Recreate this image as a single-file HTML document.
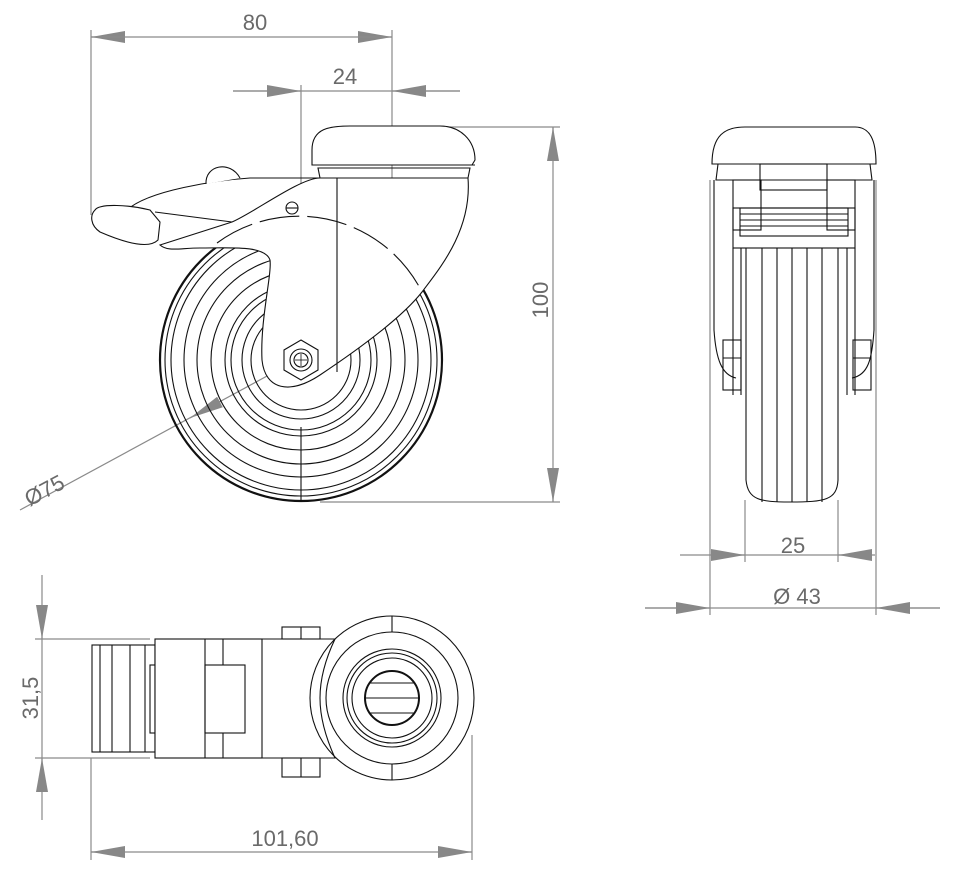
<!DOCTYPE html>
<html><head><style>
html,body{margin:0;padding:0;background:#fff;}
svg{display:block}
text{font-family:"Liberation Sans",sans-serif;fill:#6a6a6a;font-size:22px}
</style></head><body>
<svg width="960" height="870" viewBox="0 0 960 870" xmlns="http://www.w3.org/2000/svg">
<defs>
<marker id="a" viewBox="0 0 34 12" refX="34" refY="6" markerWidth="34" markerHeight="12" markerUnits="userSpaceOnUse" orient="auto"><path d="M0,0 L34,6 L0,12 Z" fill="#888"/></marker>
</defs>
<g stroke="#8a8a8a" stroke-width="1.2" fill="none">
<line x1="91" y1="30" x2="91" y2="215"/>
<line x1="392" y1="30" x2="392" y2="245" />
<line x1="125" y1="37" x2="91" y2="37" marker-end="url(#a)"/>
<line x1="358" y1="37" x2="392" y2="37" marker-end="url(#a)"/>
<line x1="91" y1="37" x2="392" y2="37"/>
<line x1="233" y1="91" x2="460" y2="91"/>
<line x1="233" y1="91" x2="301" y2="91" marker-end="url(#a)"/>
<line x1="460" y1="91" x2="392" y2="91" marker-end="url(#a)"/>
<line x1="301" y1="85" x2="301" y2="362"/>
<line x1="395" y1="127" x2="560" y2="127"/>
<line x1="320" y1="502" x2="560" y2="502"/>
<line x1="553" y1="127" x2="553" y2="502"/>
<line x1="553" y1="161" x2="553" y2="127" marker-end="url(#a)"/>
<line x1="553" y1="468" x2="553" y2="502" marker-end="url(#a)"/>
<line x1="20" y1="510" x2="422" y2="292"/>
<line x1="392" y1="308" x2="422" y2="292" marker-end="url(#a)"/>
<line x1="220" y1="402" x2="190" y2="418" marker-end="url(#a)"/>
<line x1="710" y1="180" x2="710" y2="615"/>
<line x1="876" y1="180" x2="876" y2="615"/>
<line x1="745" y1="500" x2="745" y2="562"/>
<line x1="838" y1="500" x2="838" y2="562"/>
<line x1="680" y1="555" x2="875" y2="555"/>
<line x1="711" y1="555" x2="745" y2="555" marker-end="url(#a)"/>
<line x1="872" y1="555" x2="838" y2="555" marker-end="url(#a)"/>
<line x1="645" y1="608" x2="940" y2="608"/>
<line x1="645" y1="608" x2="710" y2="608" marker-end="url(#a)"/>
<line x1="940" y1="608" x2="876" y2="608" marker-end="url(#a)"/>
<line x1="35" y1="639" x2="150" y2="639"/>
<line x1="35" y1="758" x2="150" y2="758"/>
<line x1="42" y1="575" x2="42" y2="820"/>
<line x1="42" y1="605" x2="42" y2="639" marker-end="url(#a)"/>
<line x1="42" y1="792" x2="42" y2="758" marker-end="url(#a)"/>
<line x1="91" y1="758" x2="91" y2="860"/>
<line x1="472" y1="735" x2="472" y2="860"/>
<line x1="91" y1="852" x2="472" y2="852"/>
<line x1="125" y1="852" x2="91" y2="852" marker-end="url(#a)"/>
<line x1="438" y1="852" x2="472" y2="852" marker-end="url(#a)"/>
</g>
<text x="255" y="30" text-anchor="middle">80</text>
<text x="345" y="84" text-anchor="middle">24</text>
<text x="548" y="300" text-anchor="middle" transform="rotate(-90 548 300)">100</text>
<text x="48" y="497" text-anchor="middle" transform="rotate(-28 48 497)">Ø75</text>
<text x="793" y="553" text-anchor="middle">25</text>
<text x="797" y="604" text-anchor="middle">Ø 43</text>
<text x="38" y="698" text-anchor="middle" transform="rotate(-90 38 698)">31,5</text>
<text x="285" y="846" text-anchor="middle">101,60</text>

<g stroke="#111" stroke-width="1.1" fill="none">
<circle cx="301" cy="360" r="141" stroke-width="2.2"/>
<circle cx="301" cy="360" r="136"/>
<circle cx="301" cy="360" r="130"/>
<circle cx="301" cy="360" r="117"/>
<circle cx="301" cy="360" r="104"/>
<circle cx="301" cy="360" r="90"/>
<circle cx="301" cy="360" r="76"/>
<circle cx="301" cy="360" r="70"/>
<circle cx="301" cy="360" r="59"/>
<circle cx="301" cy="360" r="50"/>
<line x1="301" y1="427" x2="301" y2="502"/>
<path d="M160,245 L232,222 C255,212 300,178 320,178 L468,178 C472,230 440,268 422,292 C400,320 350,355 320,375 C290,395 265,390 262,360 C260,320 272,275 270,260 C265,245 230,248 200,248 C180,248 168,252 160,245 Z" fill="#fff"/>
<path d="M125,212 C145,190 220,180 250,178 L320,178" />
<path d="M206,184 C205,165 230,160 240,178" fill="#fff"/>
<path d="M95,210 C100,203 130,205 150,210 L160,222 L158,240 C150,248 130,245 100,232 C90,225 90,215 95,210 Z" fill="#fff"/>
<path d="M155,212 L232,222" />
<line x1="337" y1="178" x2="337" y2="372"/>
<circle cx="292" cy="208" r="6"/>
<line x1="286" y1="208" x2="298" y2="208"/>
<path d="M217,243 A138,138 0 0 1 422,292" stroke-dasharray="40,8"/>
<polygon points="301,340 318,350 318,370 301,380 284,370 284,350" fill="#fff"/>
<circle cx="301" cy="360" r="11"/>
<circle cx="301" cy="360" r="7"/>
<line x1="295" y1="360" x2="307" y2="360" stroke-width="0.8"/>
<line x1="301" y1="354" x2="301" y2="366" stroke-width="0.8"/>
<path d="M312,165 L312,150 C312,128 330,126 350,126 L440,126 C460,126 475,140 475,160 L472,165 Z" fill="#fff"/>
<line x1="312" y1="165" x2="475" y2="165"/>
<path d="M318,168 L470,168 L468,178 L320,178 Z"/>
</g>

<g stroke="#111" stroke-width="1.1" fill="none">
<path d="M712,164 C712,135 725,127 745,127 L855,127 C870,127 876,140 876,164 Z" fill="#fff"/>
<path d="M718,164 L870,164 L872,180 L716,180 Z"/>
<rect x="760" y="164" width="67" height="26"/>
<path d="M714,180 L714,330 C716,360 722,375 736,378" />
<path d="M874,180 L874,330 C872,360 868,375 852,378" />
<rect x="733" y="180" width="28" height="50"/>
<rect x="827" y="180" width="28" height="50"/>
<rect x="733" y="208" width="122" height="40"/>
<rect x="740" y="208" width="108" height="28" />
<line x1="740" y1="214" x2="848" y2="214"/>
<line x1="740" y1="220" x2="848" y2="220"/>
<line x1="740" y1="226" x2="848" y2="226"/>
<line x1="733" y1="248" x2="733" y2="395"/>
<line x1="855" y1="248" x2="855" y2="395"/>
<line x1="741" y1="248" x2="741" y2="395"/>
<line x1="847" y1="248" x2="847" y2="395"/>
<path d="M746,248 L746,480 C748,500 760,502 790,502 C825,502 837,500 838,480 L838,248"/>
<line x1="762" y1="248" x2="762" y2="502"/>
<line x1="777" y1="248" x2="777" y2="502"/>
<line x1="792" y1="248" x2="792" y2="502"/>
<line x1="807" y1="248" x2="807" y2="502"/>
<line x1="822" y1="248" x2="822" y2="502"/>
<rect x="723" y="340" width="18" height="50"/>
<line x1="723" y1="358" x2="741" y2="358"/>
<rect x="853" y="340" width="18" height="50"/>
<line x1="853" y1="358" x2="871" y2="358"/>
</g>

<g stroke="#111" stroke-width="1.1" fill="none">
<rect x="92" y="645" width="63" height="107"/>
<line x1="100" y1="645" x2="100" y2="752"/>
<line x1="112" y1="645" x2="112" y2="752"/>
<line x1="130" y1="645" x2="130" y2="752"/>
<line x1="145" y1="645" x2="145" y2="752"/>
<rect x="150" y="665" width="6" height="68"/>
<circle cx="392" cy="698" r="82" fill="#fff"/>
<circle cx="392" cy="698" r="66"/>
<circle cx="392" cy="698" r="49"/>
<circle cx="392" cy="698" r="45"/>
<circle cx="392" cy="698" r="40"/>
<circle cx="392" cy="698" r="27" stroke-width="2"/>
<line x1="370" y1="683" x2="414" y2="683"/>
<line x1="366" y1="698" x2="418" y2="698"/>
<line x1="370" y1="713" x2="414" y2="713"/>
<line x1="392" y1="616" x2="392" y2="632"/>
<line x1="392" y1="764" x2="392" y2="780"/>
<rect x="155" y="639" width="107" height="119" fill="#fff"/>
<path d="M262,639 L335,639 C325,660 320,680 320,698 C320,716 325,736 335,758 L262,758"/>
<line x1="205" y1="639" x2="205" y2="758"/>
<line x1="223" y1="639" x2="223" y2="665"/>
<line x1="223" y1="733" x2="223" y2="758"/>
<rect x="205" y="665" width="40" height="68"/>
<rect x="282" y="627" width="38" height="12"/>
<line x1="301" y1="627" x2="301" y2="639"/>
<rect x="282" y="758" width="38" height="19"/>
<line x1="301" y1="758" x2="301" y2="777"/>
</g>
</svg>
</body></html>
